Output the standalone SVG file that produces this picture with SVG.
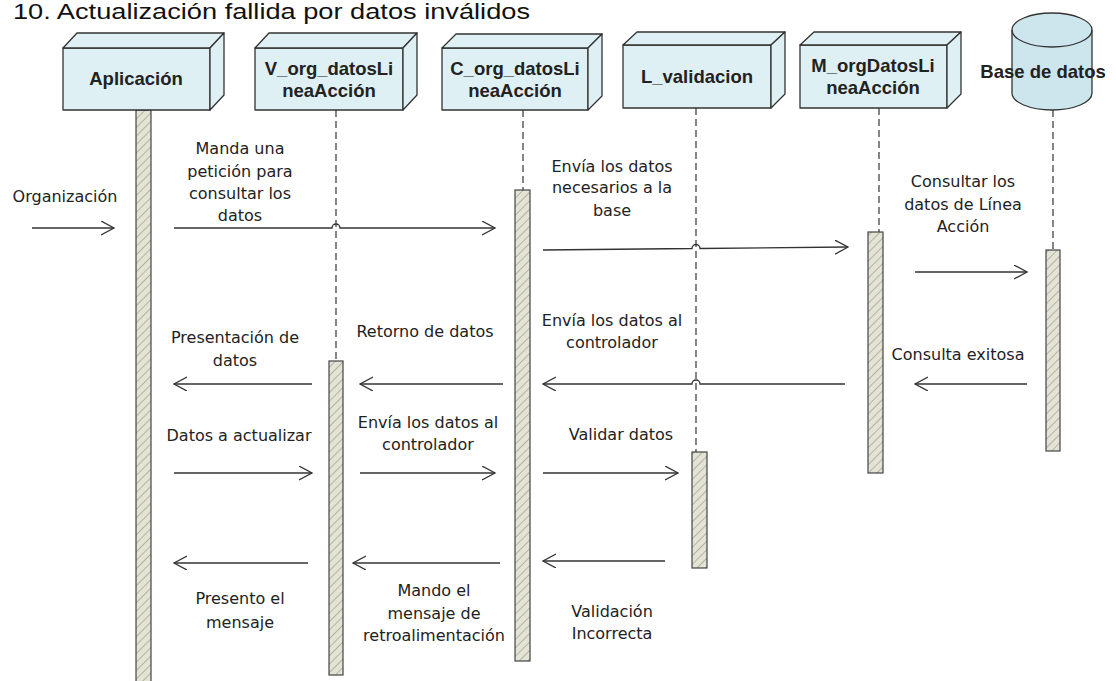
<svg xmlns="http://www.w3.org/2000/svg" width="1116" height="681" viewBox="0 0 1116 681">
<style>
.title{font-family:"Liberation Sans",Arial,sans-serif;font-size:22px;fill:#111}
.nl{font-family:"Liberation Sans",Arial,sans-serif;font-size:18.5px;font-weight:bold;fill:#222;text-anchor:middle}
.ml{font-family:"DejaVu Sans","Liberation Sans",sans-serif;font-size:16px;fill:#222;text-anchor:middle}
.box{fill:#dff0f5;stroke:#333;stroke-width:1.3;stroke-linejoin:round}
.life{stroke:#444;stroke-width:1.3;stroke-dasharray:7 4;fill:none}
.act{fill:url(#hatch);stroke:#444;stroke-width:1.2}
.msg{stroke:#333;stroke-width:1.3;fill:none;marker-end:url(#arr)}
</style>
<defs>
<pattern id="hatch" patternUnits="userSpaceOnUse" width="6" height="6" patternTransform="rotate(45)">
<rect width="6" height="6" fill="#e4e4d6"/>
<line x1="0" y1="0" x2="0" y2="6" stroke="#b3b39c" stroke-width="2"/>
</pattern>
<marker id="arr" markerUnits="userSpaceOnUse" markerWidth="16" markerHeight="16" refX="13" refY="7" orient="auto">
<path d="M0,0 L13,7 L0,14" fill="none" stroke="#333" stroke-width="1.3"/>
</marker>
</defs>
<rect width="1116" height="681" fill="#fff"/>
<text class="title" x="13" y="19" textLength="517" lengthAdjust="spacingAndGlyphs">10. Actualización fallida por datos inválidos</text>

<g id="lifelines">
<rect class="act" x="136" y="110" width="15" height="580"/>
<line class="life" x1="336" y1="110" x2="336" y2="361"/>
<rect class="act" x="329" y="361" width="14" height="314"/>
<line class="life" x1="523" y1="110" x2="523" y2="190"/>
<rect class="act" x="515" y="190" width="15" height="471"/>
<line class="life" x1="696" y1="108" x2="696" y2="452"/>
<rect class="act" x="692" y="452" width="15" height="116"/>
<line class="life" x1="879" y1="108" x2="879" y2="232"/>
<rect class="act" x="868" y="232" width="15" height="241"/>
<line class="life" x1="1053" y1="110" x2="1053" y2="250"/>
<rect class="act" x="1046" y="250" width="14" height="201"/>
</g>

<g id="aplicacion">
<rect class="box" x="63" y="48" width="147" height="62"/>
<polygon class="box" points="63,48 77,33 224,33 210,48"/>
<polygon class="box" points="210,48 224,33 224,95 210,110"/>
<text class="nl" x="136" y="85">Aplicación</text>
</g>
<g id="v_org">
<rect class="box" x="255" y="48" width="148" height="62"/>
<polygon class="box" points="255,48 269,33 417,33 403,48"/>
<polygon class="box" points="403,48 417,33 417,95 403,110"/>
<text class="nl" x="329" y="75">V_org_datosLi</text>
<text class="nl" x="329" y="97">neaAcción</text>
</g>
<g id="c_org">
<rect class="box" x="442" y="48" width="146" height="62"/>
<polygon class="box" points="442,48 456,34 602,34 588,48"/>
<polygon class="box" points="588,48 602,34 602,96 588,110"/>
<text class="nl" x="515" y="75">C_org_datosLi</text>
<text class="nl" x="515" y="97">neaAcción</text>
</g>
<g id="l_validacion">
<rect class="box" x="623" y="45" width="148" height="63"/>
<polygon class="box" points="623,45 637,32 785,32 771,45"/>
<polygon class="box" points="771,45 785,32 785,94 771,108"/>
<text class="nl" x="697" y="83">L_validacion</text>
</g>
<g id="m_org">
<rect class="box" x="800" y="45" width="147" height="63"/>
<polygon class="box" points="800,45 814,32 961,32 947,45"/>
<polygon class="box" points="947,45 961,32 961,94 947,108"/>
<text class="nl" x="873" y="72">M_orgDatosLi</text>
<text class="nl" x="873" y="94">neaAcción</text>
</g>
<g id="base_datos">
<path d="M1012,30 L1012,93 A40,17 0 0 0 1092,93 L1092,30 A40,17 0 0 0 1012,30 Z" fill="#cde6ee" stroke="#333" stroke-width="1.3"/>
<path d="M1012,30 A40,17 0 0 0 1092,30" fill="none" stroke="#333" stroke-width="1.3"/>
<text class="nl" x="1043" y="78">Base de datos</text>
</g>

<g id="connectors">
<line class="msg" x1="32" y1="228" x2="114" y2="228"/>
<path class="msg" d="M174,228 H332 a4,4 0 0 1 8,0 H495"/>
<path class="msg" d="M543,250 L692,248.5 a4,4 0 0 1 8,0 L848,247"/>
<line class="msg" x1="915" y1="272" x2="1027" y2="272"/>
<line class="msg" x1="1027" y1="384" x2="915" y2="384"/>
<path class="msg" d="M845,384 H700 a4,4 0 0 0 -8,0 H543"/>
<line class="msg" x1="503" y1="384" x2="360" y2="384"/>
<line class="msg" x1="312" y1="384" x2="174" y2="384"/>
<line class="msg" x1="174" y1="473" x2="312" y2="473"/>
<line class="msg" x1="360" y1="473" x2="495" y2="473"/>
<line class="msg" x1="543" y1="473" x2="678" y2="473"/>
<line class="msg" x1="665" y1="561" x2="543" y2="561"/>
<line class="msg" x1="500" y1="563" x2="353" y2="563"/>
<line class="msg" x1="308" y1="563" x2="174" y2="563"/>
</g>

<g id="labels">
<text class="ml" x="65" y="202">Organización</text>
<text class="ml" x="240" y="154">Manda una</text>
<text class="ml" x="240" y="177">petición para</text>
<text class="ml" x="240" y="199">consultar los</text>
<text class="ml" x="240" y="221">datos</text>
<text class="ml" x="612" y="172">Envía los datos</text>
<text class="ml" x="612" y="193">necesarios a la</text>
<text class="ml" x="612" y="216">base</text>
<text class="ml" x="963" y="187">Consultar los</text>
<text class="ml" x="963" y="210">datos de Línea</text>
<text class="ml" x="963" y="232">Acción</text>
<text class="ml" x="958" y="360">Consulta exitosa</text>
<text class="ml" x="612" y="326">Envía los datos al</text>
<text class="ml" x="612" y="348">controlador</text>
<text class="ml" x="425" y="337">Retorno de datos</text>
<text class="ml" x="235" y="343">Presentación de</text>
<text class="ml" x="235" y="366">datos</text>
<text class="ml" x="239" y="441">Datos a actualizar</text>
<text class="ml" x="428" y="428">Envía los datos al</text>
<text class="ml" x="428" y="450">controlador</text>
<text class="ml" x="621" y="440">Validar datos</text>
<text class="ml" x="434" y="596">Mando el</text>
<text class="ml" x="434" y="619">mensaje de</text>
<text class="ml" x="434" y="641">retroalimentación</text>
<text class="ml" x="612" y="617">Validación</text>
<text class="ml" x="612" y="639">Incorrecta</text>
<text class="ml" x="240" y="604">Presento el</text>
<text class="ml" x="240" y="628">mensaje</text>
</g>
</svg>
